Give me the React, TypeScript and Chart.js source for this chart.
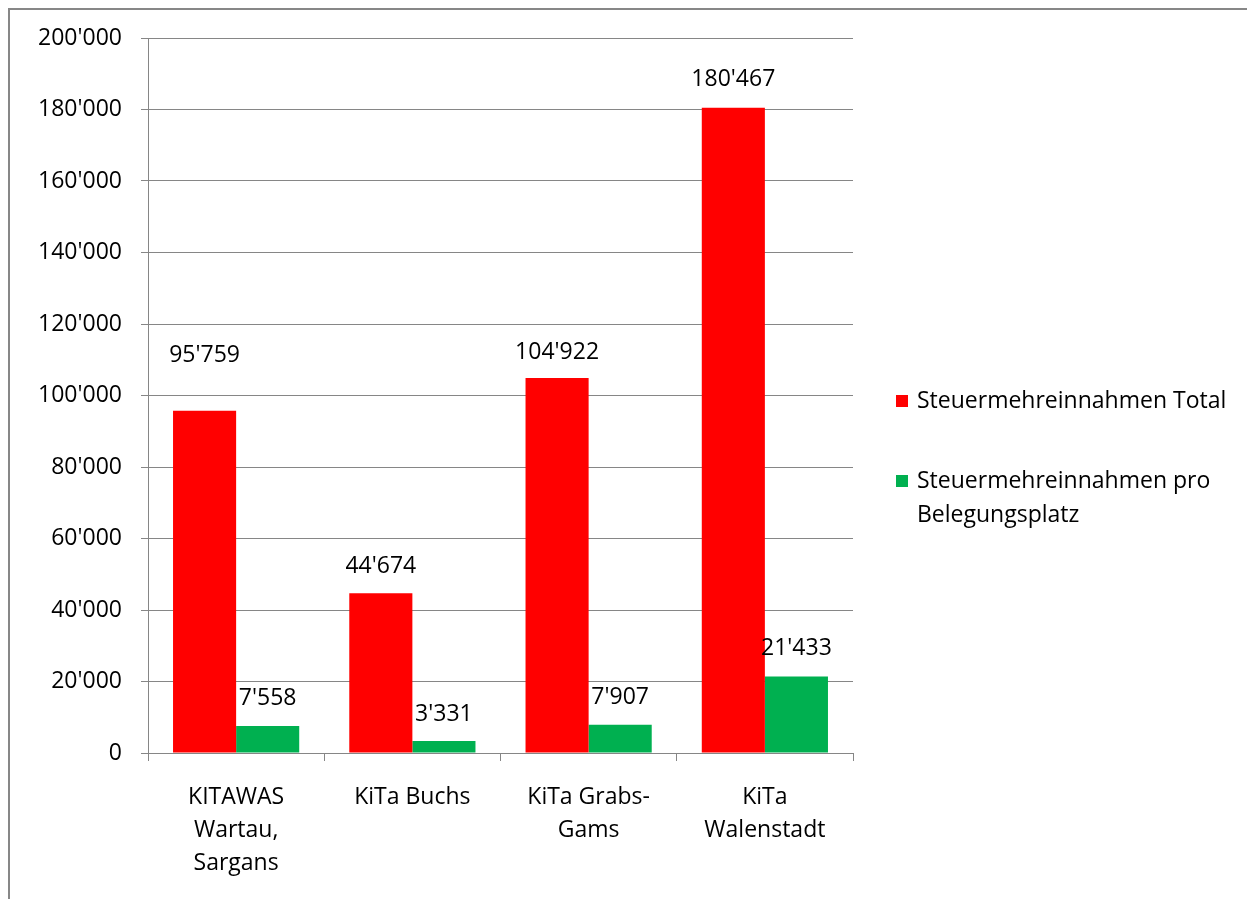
import React, { useEffect, useRef } from "react";
import { Chart, registerables } from "chart.js";

Chart.register(...registerables);

const categories: string[][] = [
  ["KITAWAS", "Wartau,", "Sargans"],
  ["KiTa Buchs"],
  ["KiTa Grabs-", "Gams"],
  ["KiTa", "Walenstadt"],
];
const totalValues = [95759, 44674, 104922, 180467];
const perPlaceValues = [7558, 3331, 7907, 21433];
const seriesNames: string[][] = [
  ["Steuermehreinnahmen Total"],
  ["Steuermehreinnahmen pro", "Belegungsplatz"],
];
const seriesColors = ["#FF0000", "#00B050"];
const yTickMax = 200000;
const yTickStep = 20000;

// vertical distance of each value label above its bar top (style only)
const labelLift = [
  [55, 28],
  [27, 27],
  [25, 27],
  [28, 28],
];

const FONT = "'Open Sans', 'Noto Sans', sans-serif";
const FONT_SIZE = 23;

const fmt = (v: number) => String(Math.round(v)).replace(/\B(?=(\d{3})+(?!\d))/g, "'");

const valueLabels = {
  id: "valueLabels",
  afterDatasetsDraw(chart: any) {
    const ctx = chart.ctx;
    ctx.save();
    ctx.font = `${FONT_SIZE}px ${FONT}`;
    ctx.fillStyle = "#000";
    ctx.textAlign = "center";
    ctx.textBaseline = "middle";
    chart.data.datasets.forEach((ds: any, di: number) => {
      const meta = chart.getDatasetMeta(di);
      meta.data.forEach((bar: any, i: number) => {
        const lift = labelLift[i] ? labelLift[i][di] : 27;
        ctx.fillText(fmt(ds.data[i]), bar.x, bar.y - lift);
      });
    });
    ctx.restore();
  },
};

const sideLegend = {
  id: "sideLegend",
  afterDraw(chart: any) {
    const ctx = chart.ctx;
    ctx.save();
    ctx.font = `${FONT_SIZE}px ${FONT}`;
    ctx.textBaseline = "middle";
    ctx.textAlign = "left";
    const x0 = 886;
    const ys = [391, 471];
    const lh = 34;
    chart.data.datasets.forEach((ds: any, di: number) => {
      const y = ys[di];
      ctx.fillStyle = ds.backgroundColor;
      ctx.fillRect(x0, y - 6, 12, 12);
      ctx.fillStyle = "#000";
      seriesNames[di].forEach((line, li) => {
        ctx.fillText(line, x0 + 21, y + li * lh);
      });
    });
    ctx.restore();
  },
};

export default function App() {
  const ref = useRef<HTMLCanvasElement>(null);
  useEffect(() => {
    if (!ref.current) return;
    const chart = new Chart(ref.current, {
      type: "bar",
      data: {
        labels: categories,
        datasets: [
          {
            label: seriesNames[0].join(" "),
            data: totalValues,
            backgroundColor: seriesColors[0],
            categoryPercentage: 0.716,
            barPercentage: 1,
          },
          {
            label: seriesNames[1].join(" "),
            data: perPlaceValues,
            backgroundColor: seriesColors[1],
            categoryPercentage: 0.716,
            barPercentage: 1,
          },
        ],
      },
      options: {
        responsive: false,
        animation: false,
        layout: { padding: { top: 28, right: 400, left: 0, bottom: 0 } },
        plugins: {
          legend: { display: false },
          tooltip: { enabled: false },
        },
        scales: {
          x: {
            offset: true,
            grid: {
              drawOnChartArea: false,
              color: "#868686",
              tickLength: 8,
              offset: true,
            },
            border: { color: "#868686", width: 1 },
            ticks: {
              color: "#000",
              font: { family: FONT, size: FONT_SIZE, lineHeight: 33 / FONT_SIZE },
              padding: 20,
              maxRotation: 0,
              autoSkip: false,
            },
            afterFit: (s: any) => {
              s.height = 146;
              s.paddingLeft = 0;
              s.paddingRight = 0;
            },
          },
          y: {
            min: 0,
            max: yTickMax,
            grid: { color: "#868686", tickLength: 7 },
            border: { color: "#868686", width: 1 },
            ticks: {
              stepSize: yTickStep,
              color: "#000",
              font: { family: FONT, size: FONT_SIZE },
              padding: 19,
              callback: (v: any) => fmt(Number(v)),
            },
            afterFit: (s: any) => {
              s.width = 138;
              s.paddingTop = 0;
              s.paddingBottom = 0;
            },
          },
        },
      },
      plugins: [valueLabels, sideLegend],
    });
    return () => chart.destroy();
  }, []);
  return (
    <div
      style={{
        boxSizing: "border-box",
        width: 1247,
        height: 900,
        borderLeft: "2px solid #878787",
        borderTop: "2px solid #878787",
        borderRight: "2px solid #d9d9d9",
        background: "#fff",
      }}
    >
      <canvas ref={ref} width={1243} height={889} style={{ display: "block", width: 1243, height: 889 }} />
    </div>
  );
}
